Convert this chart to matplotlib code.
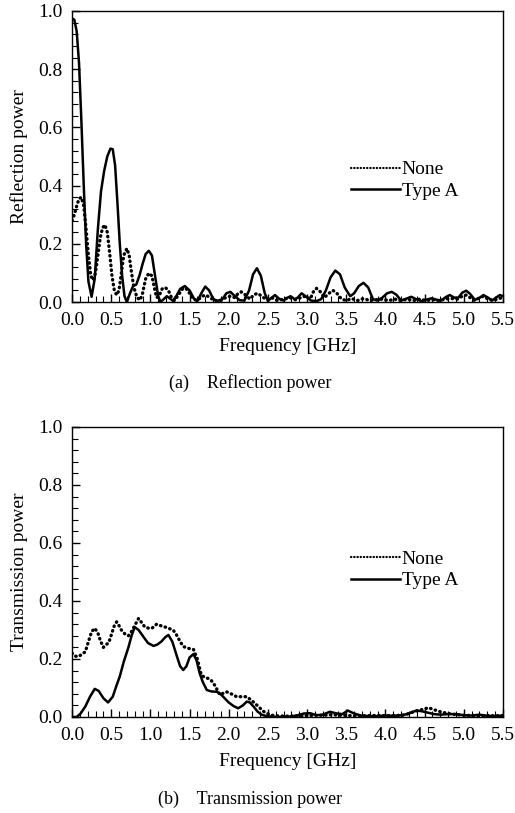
import matplotlib
matplotlib.use("Agg")
import matplotlib.pyplot as plt
from matplotlib.ticker import MultipleLocator, FormatStrFormatter

plt.rcParams['font.family'] = ['Liberation Serif', 'DejaVu Serif']

# (a) reflection power
refl_a_f = [0.00, 0.03, 0.06, 0.09, 0.12, 0.15, 0.18, 0.21, 0.25, 0.29, 0.33, 0.37, 0.41,
            0.45, 0.49, 0.52, 0.55, 0.58, 0.61, 0.64, 0.67, 0.70, 0.74, 0.78, 0.82, 0.86,
            0.90, 0.94, 0.98, 1.02, 1.06, 1.10, 1.13, 1.17, 1.21, 1.25, 1.29, 1.33, 1.38,
            1.44, 1.50, 1.56, 1.60, 1.65, 1.70, 1.75, 1.80, 1.85, 1.92, 1.97, 2.02, 2.08,
            2.14, 2.20, 2.26, 2.31, 2.36, 2.41, 2.46, 2.50, 2.55, 2.59, 2.64, 2.70, 2.75,
            2.79, 2.84, 2.88, 2.93, 2.98, 3.05, 3.12, 3.18, 3.24, 3.30, 3.36, 3.42, 3.48,
            3.55, 3.60, 3.66, 3.72, 3.78, 3.84, 3.90, 3.96, 4.02, 4.08, 4.14, 4.20, 4.27,
            4.33, 4.39, 4.46, 4.52, 4.59, 4.65, 4.71, 4.77, 4.82, 4.88, 4.93, 4.98, 5.03,
            5.08, 5.14, 5.19, 5.25, 5.31, 5.36, 5.41, 5.46, 5.50]
refl_a = [0.975, 0.97, 0.93, 0.82, 0.62, 0.40, 0.20, 0.07, 0.018, 0.08, 0.25, 0.38, 0.45,
          0.50, 0.527, 0.525, 0.47, 0.34, 0.20, 0.09, 0.02, 0.0, 0.03, 0.055, 0.06, 0.09,
          0.13, 0.165, 0.176, 0.16, 0.09, 0.02, 0.0, 0.01, 0.02, 0.012, 0.004, 0.02, 0.045,
          0.055, 0.04, 0.01, 0.003, 0.03, 0.053, 0.04, 0.012, 0.003, 0.01, 0.03, 0.035, 0.02,
          0.006, 0.005, 0.04, 0.095, 0.116, 0.09, 0.03, 0.004, 0.015, 0.024, 0.012, 0.005, 0.015,
          0.02, 0.01, 0.015, 0.03, 0.02, 0.005, 0.003, 0.01, 0.04, 0.085, 0.108, 0.095, 0.05,
          0.02, 0.03, 0.055, 0.066, 0.05, 0.01, 0.005, 0.015, 0.03, 0.035, 0.025, 0.005, 0.012,
          0.018, 0.01, 0.003, 0.008, 0.013, 0.008, 0.005, 0.017, 0.024, 0.015, 0.015, 0.032, 0.039,
          0.028, 0.008, 0.012, 0.024, 0.015, 0.005, 0.015, 0.024, 0.02]

refl_n_f = [0.00, 0.03, 0.06, 0.09, 0.12, 0.15, 0.18, 0.21, 0.24, 0.27, 0.30, 0.33, 0.36,
            0.39, 0.42, 0.45, 0.48, 0.51, 0.54, 0.57, 0.60, 0.63, 0.66, 0.70, 0.73, 0.76,
            0.79, 0.83, 0.87, 0.90, 0.94, 0.98, 1.02, 1.05, 1.08, 1.11, 1.15, 1.19, 1.23,
            1.27, 1.31, 1.36, 1.41, 1.45, 1.50, 1.55, 1.60, 1.66, 1.71, 1.76, 1.82, 1.90,
            1.96, 2.02, 2.08, 2.12, 2.16, 2.21, 2.27, 2.32, 2.37, 2.42, 2.48, 2.55, 2.62,
            2.70, 2.78, 2.85, 2.92, 2.98, 3.04, 3.08, 3.12, 3.17, 3.22, 3.28, 3.33, 3.38,
            3.44, 3.50, 3.57, 3.64, 3.72, 3.80, 3.88, 3.96, 4.04, 4.12, 4.20, 4.28, 4.36,
            4.44, 4.52, 4.60, 4.68, 4.76, 4.84, 4.92, 4.98, 5.03, 5.08, 5.14, 5.20, 5.25,
            5.31, 5.38, 5.44, 5.50]
refl_n = [0.28, 0.30, 0.33, 0.355, 0.36, 0.33, 0.25, 0.16, 0.09, 0.075, 0.10, 0.16, 0.22,
          0.255, 0.265, 0.24, 0.17, 0.09, 0.04, 0.024, 0.04, 0.10, 0.16, 0.184, 0.16, 0.10,
          0.05, 0.015, 0.007, 0.03, 0.08, 0.099, 0.09, 0.05, 0.015, 0.02, 0.045, 0.05, 0.04,
          0.015, 0.005, 0.025, 0.045, 0.048, 0.03, 0.01, 0.005, 0.02, 0.024, 0.015, 0.005, 0.005,
          0.015, 0.02, 0.015, 0.03, 0.035, 0.025, 0.01, 0.025, 0.03, 0.02, 0.008, 0.015, 0.005,
          0.01, 0.015, 0.008, 0.015, 0.02, 0.01, 0.035, 0.047, 0.035, 0.015, 0.03, 0.04, 0.03,
          0.01, 0.005, 0.012, 0.005, 0.012, 0.005, 0.008, 0.01, 0.005, 0.01, 0.005, 0.01, 0.005,
          0.01, 0.005, 0.008, 0.005, 0.01, 0.012, 0.01, 0.02, 0.024, 0.015, 0.005, 0.015, 0.02,
          0.01, 0.005, 0.012, 0.015]

# (b) transmission power
trans_a_f = [0.00, 0.06, 0.11, 0.17, 0.23, 0.29, 0.34, 0.40, 0.46, 0.52, 0.57, 0.61, 0.66,
             0.72, 0.76, 0.80, 0.85, 0.91, 0.97, 1.04, 1.09, 1.14, 1.19, 1.23, 1.28, 1.34,
             1.38, 1.42, 1.46, 1.50, 1.55, 1.59, 1.63, 1.67, 1.72, 1.78, 1.85, 1.90, 1.95,
             2.00, 2.06, 2.12, 2.18, 2.23, 2.27, 2.32, 2.37, 2.42, 2.48, 2.53, 2.60, 2.70,
             2.80, 2.88, 2.96, 3.04, 3.12, 3.20, 3.29, 3.38, 3.45, 3.52, 3.60, 3.70, 3.80,
             3.90, 4.00, 4.10, 4.20, 4.28, 4.35, 4.40, 4.46, 4.54, 4.62, 4.70, 4.80, 4.90,
             5.00, 5.10, 5.20, 5.30, 5.40, 5.50]
trans_a = [0.0, 0.0, 0.012, 0.036, 0.07, 0.097, 0.09, 0.065, 0.05, 0.07, 0.11, 0.14, 0.19,
           0.24, 0.28, 0.31, 0.30, 0.277, 0.255, 0.245, 0.25, 0.26, 0.275, 0.283, 0.26, 0.208,
           0.175, 0.162, 0.175, 0.205, 0.217, 0.195, 0.15, 0.12, 0.093, 0.088, 0.087, 0.078, 0.064,
           0.05, 0.038, 0.03, 0.04, 0.053, 0.05, 0.035, 0.018, 0.008, 0.003, 0.002, 0.0, 0.0,
           0.002, 0.006, 0.012, 0.013, 0.006, 0.008, 0.018, 0.012, 0.01, 0.022, 0.012, 0.004, 0.003,
           0.003, 0.005, 0.004, 0.006, 0.01, 0.018, 0.022, 0.02, 0.015, 0.01, 0.008, 0.01, 0.01,
           0.006, 0.005, 0.008, 0.004, 0.003, 0.005]

trans_n_f = [0.00, 0.04, 0.08, 0.12, 0.17, 0.21, 0.25, 0.29, 0.33, 0.36, 0.40, 0.44, 0.47,
             0.51, 0.54, 0.57, 0.60, 0.63, 0.68, 0.72, 0.75, 0.79, 0.85, 0.89, 0.93, 0.98,
             1.02, 1.08, 1.13, 1.19, 1.24, 1.29, 1.33, 1.38, 1.42, 1.48, 1.55, 1.60, 1.65,
             1.70, 1.74, 1.78, 1.82, 1.86, 1.89, 1.93, 1.97, 2.03, 2.10, 2.16, 2.23, 2.30,
             2.38, 2.43, 2.48, 2.55, 2.62, 2.72, 2.82, 2.92, 3.02, 3.12, 3.22, 3.32, 3.42,
             3.52, 3.62, 3.72, 3.82, 3.92, 4.02, 4.12, 4.22, 4.30, 4.38, 4.46, 4.55, 4.62,
             4.70, 4.80, 4.90, 5.00, 5.10, 5.20, 5.30, 5.40, 5.50]
trans_n = [0.22, 0.21, 0.208, 0.215, 0.225, 0.26, 0.294, 0.306, 0.29, 0.265, 0.24, 0.25, 0.257,
           0.29, 0.315, 0.328, 0.315, 0.30, 0.285, 0.28, 0.29, 0.31, 0.34, 0.325, 0.31, 0.306,
           0.306, 0.32, 0.315, 0.31, 0.305, 0.30, 0.285, 0.26, 0.243, 0.237, 0.233, 0.2, 0.145,
           0.135, 0.133, 0.125, 0.11, 0.09, 0.076, 0.082, 0.087, 0.08, 0.07, 0.07, 0.07, 0.055,
           0.036, 0.022, 0.013, 0.006, 0.004, 0.003, 0.003, 0.004, 0.005, 0.006, 0.006, 0.008, 0.006,
           0.005, 0.004, 0.004, 0.005, 0.005, 0.004, 0.005, 0.006, 0.012, 0.02, 0.025, 0.032, 0.025,
           0.018, 0.012, 0.008, 0.006, 0.005, 0.004, 0.005, 0.004, 0.005]

legend_names = ['None', 'Type A']
xlabel = 'Frequency [GHz]'
ylabels = ['Reflection power', 'Transmission power']
captions = ['(a)    Reflection power', '(b)    Transmission power']

fig = plt.figure(figsize=(5.15, 8.13), dpi=100)
ax1 = fig.add_axes([0.1398, 0.6285, 0.8369, 0.358])
ax2 = fig.add_axes([0.1398, 0.1181, 0.8369, 0.3567])

fs = 14
dot_style = (0, (0.15, 1.3))

for ax, fn, yn, fa, ya, ylab, leg_top in [
        (ax1, refl_n_f, refl_n, refl_a_f, refl_a, ylabels[0], 0.485),
        (ax2, trans_n_f, trans_n, trans_a_f, trans_a, ylabels[1], 0.575)]:
    ax.plot(fn, yn, color='k', lw=2.4, linestyle=dot_style, dash_capstyle='round',
            label=legend_names[0])
    ax.plot(fa, ya, color='k', lw=1.8, label=legend_names[1])
    ax.set_xlim(0, 5.5)
    ax.set_ylim(0, 1.0)
    ax.xaxis.set_major_locator(MultipleLocator(0.5))
    ax.xaxis.set_minor_locator(MultipleLocator(0.1))
    ax.yaxis.set_major_locator(MultipleLocator(0.2))
    ax.yaxis.set_minor_locator(MultipleLocator(0.04))
    ax.xaxis.set_major_formatter(FormatStrFormatter('%.1f'))
    ax.yaxis.set_major_formatter(FormatStrFormatter('%.1f'))
    ax.tick_params(which='both', direction='in', labelsize=fs, top=False, right=False)
    ax.tick_params(which='major', length=6, width=1)
    ax.tick_params(which='minor', length=4, width=0.8)
    ax.tick_params(axis='x', pad=7)
    ax.tick_params(axis='y', pad=7)
    for sp in ax.spines.values():
        sp.set_linewidth(1.0)
    ax.set_xlabel(xlabel, fontsize=fs, labelpad=7)
    ax.set_ylabel(ylab, fontsize=fs, labelpad=7)
    leg = ax.legend(loc='upper left', bbox_to_anchor=(0.648, leg_top), frameon=False,
                    fontsize=fs, handlelength=2.5, handletextpad=0.1, borderpad=0,
                    labelspacing=0.2, borderaxespad=0)
    leg.get_lines()[0].set_linewidth(1.6)

fig.text(0.485, 1 - 383 / 813, captions[0], ha='center', va='center', fontsize=13)
fig.text(0.485, 1 - 799 / 813, captions[1], ha='center', va='center', fontsize=13)

fig.savefig('out.png', dpi=100)
